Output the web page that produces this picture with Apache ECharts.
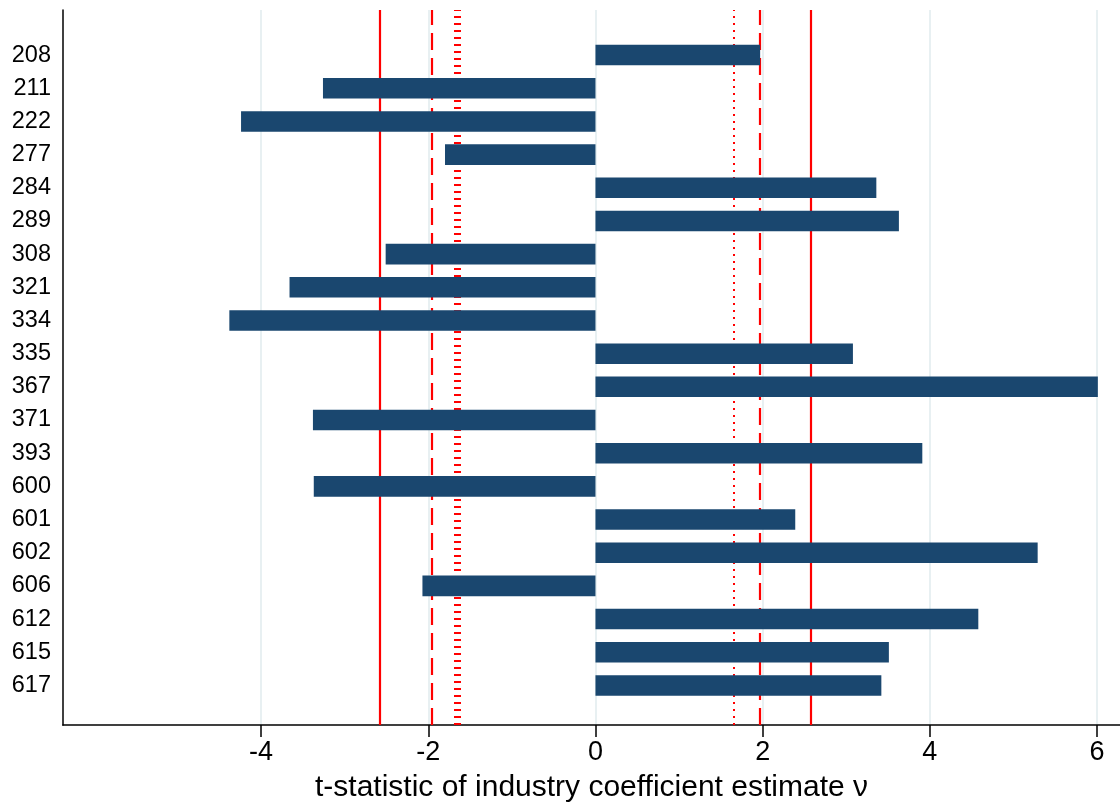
<!DOCTYPE html>
<html>
<head>
<meta charset="utf-8">
<script src="https://cdn.jsdelivr.net/npm/echarts@6/dist/echarts.min.js"></script>
<style>
html,body{margin:0;padding:0;background:#fff;}
#chart{width:1120px;height:808px;}
</style>
</head>
<body>
<div id="chart"></div>
<script>
// ---- data ----
var categories = ['208','211','222','277','284','289','308','321','334','335','367','371','393','600','601','602','606','612','615','617'];
var tValues = [1.97,-3.26,-4.24,-1.80,3.36,3.63,-2.51,-3.66,-4.38,3.08,6.01,-3.38,3.91,-3.37,2.39,5.29,-2.07,4.58,3.51,3.42];
var xTicks = [-4,-2,0,2,4,6];
var solidCrit = [-2.576, 2.576];
var dashedCrit = [-1.96, 1.96];
var dottedCrit = [-1.645, 1.645];
var xTitle = 't-statistic of industry coefficient estimate \u03bd';

var X_MIN = -6.37, X_MAX = 6.275;
var FONT = '"Liberation Sans", Arial, Helvetica, sans-serif';
var RED = '#ff0000';

var chart = echarts.init(document.getElementById('chart'), null, {renderer:'canvas'});

function vline(v, type, width){
  return {xAxis: v, lineStyle: {color: RED, type: type, width: width}};
}
var markData = [];
solidCrit.forEach(function(v){ markData.push(vline(v, 'solid', 2.2)); });
dashedCrit.forEach(function(v){ markData.push(vline(v, [17, 8], 2.2)); });
markData.push(vline(dottedCrit[0], [2, 5], 7));
markData.push(vline(dottedCrit[1], [2, 5], 2));

var option = {
  animation: false,
  backgroundColor: '#ffffff',
  textStyle: {fontFamily: FONT},
  grid: [
    {left: 63, right: 0, top: 10, bottom: 79, containLabel: false},
    {left: 63, right: 0, top: 38.5, bottom: 106, containLabel: false}
  ],
  xAxis: [
    {
      gridIndex: 0, type: 'value', min: X_MIN, max: X_MAX,
      axisLine: {show: true, onZero: false, lineStyle: {color: '#000', width: 1.7}},
      axisTick: {show: true, length: 12, lineStyle: {color: '#000', width: 1.5}, customValues: xTicks},
      axisLabel: {show: true, customValues: xTicks, fontSize: 27, color: '#000', margin: 14, fontFamily: FONT,
        formatter: function(v){ return String(v); }},
      splitLine: {show: true, lineStyle: {color: '#e8f0f2', width: 2}},
      name: xTitle, nameLocation: 'middle', nameGap: 48,
      nameTextStyle: {fontSize: 30, color: '#000', fontFamily: FONT}
    },
    {
      gridIndex: 1, type: 'value', min: X_MIN, max: X_MAX,
      axisLine: {show: false}, axisTick: {show: false}, axisLabel: {show: false}, splitLine: {show: false}
    }
  ],
  yAxis: [
    {
      gridIndex: 0, type: 'value', min: 0, max: 1,
      axisLine: {show: true, onZero: false, lineStyle: {color: '#000', width: 1.5}},
      axisTick: {show: false}, axisLabel: {show: false}, splitLine: {show: false}
    },
    {
      gridIndex: 1, type: 'category', data: categories, inverse: true,
      axisLine: {show: false}, axisTick: {show: false}, splitLine: {show: false},
      axisLabel: {show: true, fontSize: 23.5, color: '#000', margin: 12, fontFamily: FONT}
    }
  ],
  series: [
    {
      type: 'line', xAxisIndex: 0, yAxisIndex: 0, data: [], z: 2, silent: true,
      markLine: {
        silent: true, symbol: ['none', 'none'], label: {show: false},
        animation: false, data: markData
      }
    },
    {
      type: 'bar', xAxisIndex: 1, yAxisIndex: 1, data: tValues, z: 5,
      barWidth: '62%',
      itemStyle: {color: '#1a476f'},
      silent: true
    }
  ]
};
chart.setOption(option);
</script>
</body>
</html>
